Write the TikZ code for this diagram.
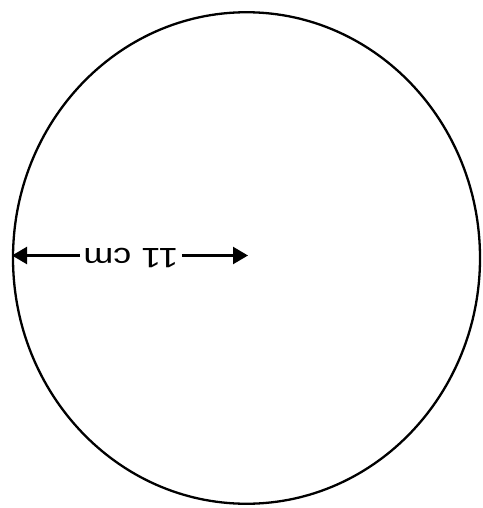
\documentclass[tikz,border=0pt]{standalone}
\usepackage{fontspec}
\setmainfont{Liberation Sans}
\usetikzlibrary{arrows.meta,shapes.geometric}
\begin{document}
\begin{tikzpicture}[x=1pt,y=-1pt,
  rim/.style={draw=black,line width=2.3pt,ellipse,inner sep=0pt,outer sep=0pt,minimum width=467pt,minimum height=491.5pt},
  lab/.style={font=\fontsize{28}{30}\selectfont,rotate=180,xscale=1.28,inner sep=0pt,inner xsep=2.5pt},
  arr/.style={line width=2.3pt,-{Triangle[length=15pt,width=17pt]}}]
\useasboundingbox (0,0) rectangle (482,508);
\node[rim] (circ) at (246.5,258) {};
\coordinate (L) at (12,255.5);
\coordinate (R) at (248,255.5);
\node[lab,anchor=base] (lbl) at (131,248) {11 cm};
\draw[arr] (lbl.east |- L) -- (L);
\draw[arr] (lbl.west |- R) -- (R);
\end{tikzpicture}
\end{document}
